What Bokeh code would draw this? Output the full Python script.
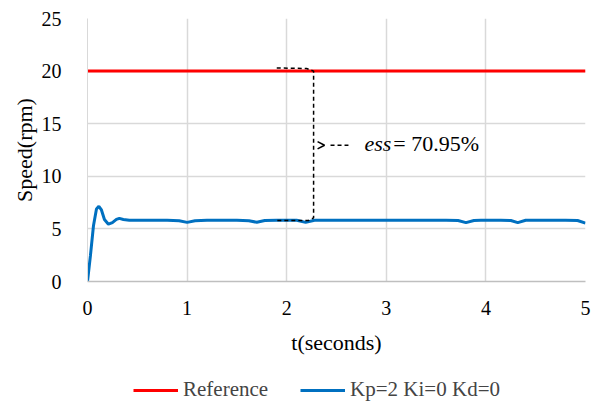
from bokeh.plotting import figure
from bokeh.models import Range1d, Legend, LegendItem, Label, FixedTicker
from bokeh.layouts import column
from bokeh.embed import file_html
from bokeh.resources import INLINE

# data
ref_t = [0, 5]
ref_v = [20, 20]
pid_t = [0, 0.03, 0.06, 0.09, 0.114, 0.14, 0.17, 0.21, 0.25, 0.29, 0.32, 0.36, 0.42, 0.6, 0.8,
         0.92, 1.0, 1.08, 1.2, 1.5, 1.62, 1.7, 1.78, 1.9, 2.1, 2.19, 2.28, 2.4, 3.0, 3.6, 3.72,
         3.8, 3.88, 3.95, 4.15, 4.25, 4.32, 4.4, 4.5, 4.8, 4.92, 5.0]
pid_v = [0, 2.5, 5.3, 6.9, 7.15, 6.8, 5.9, 5.45, 5.6, 5.9, 6.0, 5.9, 5.82, 5.82, 5.82,
         5.78, 5.62, 5.78, 5.83, 5.83, 5.78, 5.63, 5.8, 5.83, 5.82, 5.62, 5.82, 5.83, 5.83, 5.83, 5.8,
         5.6, 5.8, 5.83, 5.83, 5.8, 5.6, 5.82, 5.83, 5.83, 5.8, 5.55]
x_ticks = [0, 1, 2, 3, 4, 5]
y_ticks = [0, 5, 10, 15, 20, 25]
# annotation bracket
br_t = [1.9, 2.2, 2.27, 2.27, 2.22, 1.9]
br_v = [20.3, 20.25, 20.0, 6.05, 5.8, 5.8]
arr_t = [2.31, 2.38, 2.31]
arr_v = [13.3, 12.95, 12.6]
dash_t = [2.44, 2.62]
dash_v = [12.95, 12.95]
ess_label = "ess"
ess_value = "= 70.95%"
series_names = ["Reference", "Kp=2 Ki=0 Kd=0"]
series_colors = ["#ff0000", "#0070c0"]

FONT = "Liberation Serif"

p = figure(frame_width=498, frame_height=263, output_backend="svg", toolbar_location=None,
           x_range=Range1d(0, 5), y_range=Range1d(0, 25),
           min_border_left=87, min_border_right=12, min_border_top=18, min_border_bottom=95)
p.outline_line_color = None
p.background_fill_color = "white"

for ax in (p.xaxis, p.yaxis):
    ax.major_tick_line_color = None
    ax.minor_tick_line_color = None
    ax.major_label_text_font = FONT
    ax.major_label_text_font_size = "20px"
    ax.major_label_text_color = "black"
    ax.axis_label_text_font = FONT
    ax.axis_label_text_font_size = "22px"
    ax.axis_label_text_font_style = "normal"
    ax.axis_label_text_color = "black"

p.xaxis.ticker = FixedTicker(ticks=x_ticks)
p.yaxis.ticker = FixedTicker(ticks=y_ticks)
p.xaxis.axis_label = "t(seconds)"
p.yaxis.axis_label = "Speed(rpm)"
p.xaxis.axis_line_color = "#bfbfbf"
p.xaxis.axis_line_width = 1.5
p.yaxis.axis_line_color = "#d9d9d9"
p.xaxis.major_label_standoff = 13
p.yaxis.major_label_standoff = 20
p.xaxis.axis_label_standoff = 12
p.yaxis.axis_label_standoff = 2

p.xgrid.grid_line_color = "#d9d9d9"
p.ygrid.grid_line_color = "#d9d9d9"
p.xgrid.grid_line_width = 1.5
p.ygrid.grid_line_width = 1.5

p.line(ref_t, ref_v, line_color=series_colors[0], line_width=3)
p.line(pid_t, pid_v, line_color=series_colors[1], line_width=3)

p.line(br_t, br_v, line_color="black", line_width=1.5, line_dash="4 3")
p.line(arr_t, arr_v, line_color="black", line_width=1.5)
p.line(dash_t, dash_v, line_color="black", line_width=1.5, line_dash="4 3")

p.add_layout(Label(x=2.78, y=13.1, text=ess_label, text_font=FONT, text_font_size="22px",
                   text_font_style="italic", text_baseline="middle", text_color="black"))
p.add_layout(Label(x=3.07, y=13.1, text=ess_value, text_font=FONT, text_font_size="22px",
                   text_baseline="middle", text_color="black"))

# legend strip below the chart (series drawn out of view, only their legend shows)
lg = figure(width=597, height=27, output_backend="svg", toolbar_location=None,
            x_axis_type=None, y_axis_type=None, min_border=0,
            x_range=Range1d(0, 5), y_range=Range1d(100, 101))
lg.outline_line_color = None
lg.grid.visible = False
lr1 = lg.line(ref_t, ref_v, line_color=series_colors[0], line_width=3)
lr2 = lg.line(pid_t, pid_v, line_color=series_colors[1], line_width=3)
legend = Legend(items=[LegendItem(label=series_names[0], renderers=[lr1]),
                       LegendItem(label=series_names[1], renderers=[lr2])],
                orientation="horizontal", location=(46, 1),
                label_text_font=FONT, label_text_font_size="21px",
                glyph_width=45, spacing=32, border_line_color=None,
                background_fill_alpha=0,
                margin=0, padding=0, label_standoff=5)
lg.add_layout(legend, "center")

open("out.html", "w").write(file_html(column(p, lg, spacing=0), INLINE))
